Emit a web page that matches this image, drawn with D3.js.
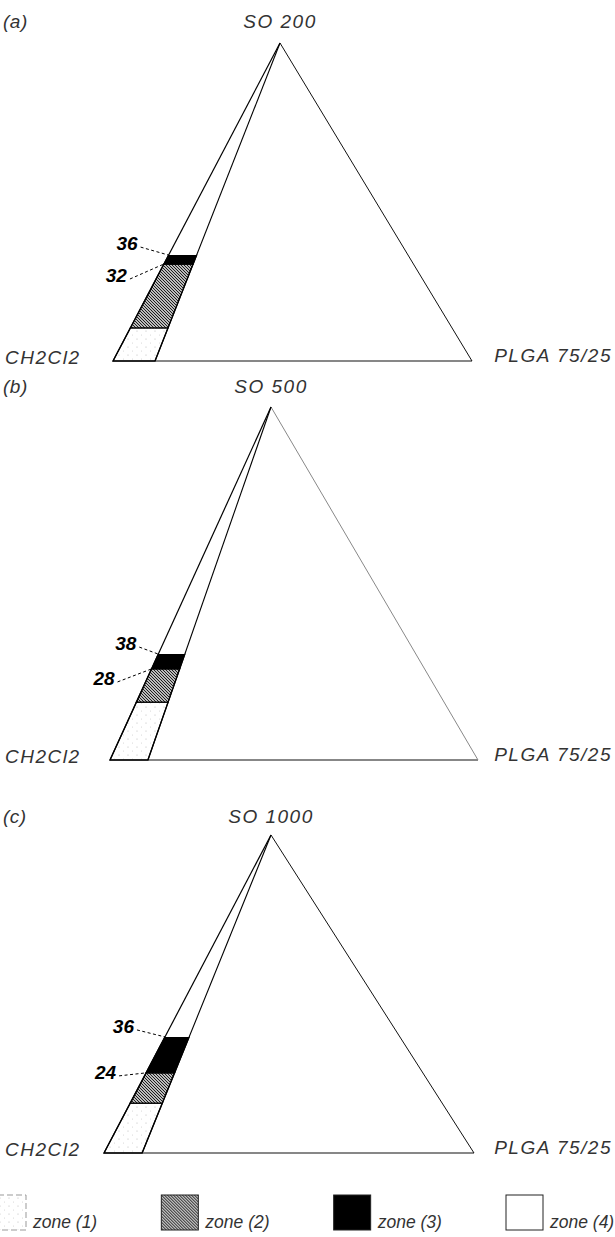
<!DOCTYPE html>
<html>
<head>
<meta charset="utf-8">
<script src="https://cdn.jsdelivr.net/npm/d3@7"></script>
<style>
  html, body { margin: 0; padding: 0; background: #fff; overflow: hidden; }
  svg { display: block; }
  text { font-family: "Liberation Sans", Arial, sans-serif; }
</style>
</head>
<body>
<svg id="chart" width="615" height="1237"></svg>
<script>
// ---------------- data ----------------
const panelTags   = ["(a)", "(b)", "(c)"];
const titles      = ["SO 200", "SO 500", "SO 1000"];
const leftVertex  = "CH2Cl2";
const rightVertex = "PLGA 75/25";
// PLGA share (% of base) at which the working strip ends
const plgaLimit   = [11.7, 10.3, 10.3];
// zone upper boundaries, SO %
const zone1Top    = [10.4, 16.4, 15.7];
const zone2Top    = [30.5, 25.8, 25.2];
const zone3Top    = [33.3, 30.0, 36.5];
// numbers written beside the strip
const upperValue  = ["36", "38", "36"];
const lowerValue  = ["32", "28", "24"];
const legendLabels = ["zone (1)", "zone (2)", "zone (3)", "zone (4)"];

// ---------------- layout ----------------
const layout = [
  { apex: [280, 43],  left: [113, 361],  right: [472, 361],  titleY: 28,
    up: { dx: -31, dy: -5 }, lo: { dx: -37, dy: 18 }, rightColor: "#111" },
  { apex: [271, 407], left: [110, 760],  right: [478, 760],  titleY: 393,
    up: { dx: -22, dy: -4 }, lo: { dx: -37, dy: 16 }, rightColor: "#888" },
  { apex: [271, 835], left: [104, 1153], right: [474, 1153], titleY: 823,
    up: { dx: -31, dy: -4 }, lo: { dx: -30, dy: 6 }, rightColor: "#111" }
];

const svg = d3.select("#chart");
const defs = svg.append("defs");

// hatch for zone 2
const hatch = defs.append("pattern").attr("id", "hatch")
  .attr("patternUnits", "userSpaceOnUse").attr("width", 3).attr("height", 3);
hatch.append("rect").attr("width", 3).attr("height", 3).attr("fill", "#fff");
hatch.append("path").attr("d", "M-1,-1 L4,4 M-1,2 L1,4 M2,-1 L4,1")
  .attr("stroke", "#111").attr("stroke-width", 1.1);

// sparse dots for zone 1
const dots = defs.append("pattern").attr("id", "dots")
  .attr("patternUnits", "userSpaceOnUse").attr("width", 9).attr("height", 8);
dots.append("rect").attr("width", 9).attr("height", 8).attr("fill", "#fff");
dots.append("circle").attr("cx", 2).attr("cy", 3).attr("r", 0.6).attr("fill", "#bbb");
dots.append("circle").attr("cx", 6.5).attr("cy", 7).attr("r", 0.5).attr("fill", "#ccc");

const zoneFill = ["url(#dots)", "url(#hatch)", "#000", "#fff"];

layout.forEach((L, i) => {
  const g = svg.append("g");
  const so = d3.scaleLinear().domain([0, 100]).range([L.left[1], L.apex[1]]);
  const xAt = (s, p) => {           // barycentric: s = SO %, p = PLGA %
    const a = s / 100, b = p / 100, c = 1 - a - b;
    return L.left[0] * c + L.right[0] * b + L.apex[0] * a;
  };
  const pt = (s, p) => [xAt(s, p), so(s)];
  const stripP = s => plgaLimit[i] * (1 - s / 100);

  // zones
  const bounds = [0, zone1Top[i], zone2Top[i], zone3Top[i], 100];
  for (let z = 0; z < 4; z++) {
    const s1 = bounds[z], s2 = bounds[z + 1];
    const poly = [pt(s1, 0), pt(s2, 0), pt(s2, stripP(s2)), pt(s1, stripP(s1))];
    g.append("path")
      .attr("d", d3.line()(poly) + "Z")
      .attr("fill", zoneFill[z])
      .attr("stroke", z === 3 ? "none" : "#000")
      .attr("stroke-width", 1.3);
  }

  // triangle
  g.append("line").attr("x1", L.left[0]).attr("y1", L.left[1])
    .attr("x2", L.right[0]).attr("y2", L.right[1])
    .attr("stroke", "#111").attr("stroke-width", 1.1);
  g.append("line").attr("x1", L.apex[0]).attr("y1", L.apex[1])
    .attr("x2", L.right[0]).attr("y2", L.right[1])
    .attr("stroke", L.rightColor).attr("stroke-width", 1);
  g.append("line").attr("x1", L.apex[0]).attr("y1", L.apex[1])
    .attr("x2", L.left[0]).attr("y2", L.left[1])
    .attr("stroke", "#000").attr("stroke-width", 1.2);
  const innerBase = pt(0, plgaLimit[i]);
  g.append("line").attr("x1", L.apex[0]).attr("y1", L.apex[1])
    .attr("x2", innerBase[0]).attr("y2", innerBase[1])
    .attr("stroke", "#000").attr("stroke-width", 1.1);

  // vertex labels
  const lab = (x, y, anchor, txt, ls) => g.append("text").attr("x", x).attr("y", y)
    .attr("text-anchor", anchor).attr("font-style", "italic")
    .attr("font-size", 19).attr("letter-spacing", ls)
    .attr("fill", "#333").text(txt);
  lab(L.apex[0], L.titleY, "middle", titles[i], 1.5);
  lab(3, L.titleY, "start", panelTags[i], 0.5);
  lab(5, L.left[1] + 3, "start", leftVertex, 1.5);
  lab(612, L.right[1] + 1, "end", rightVertex, 1.5);

  // boundary values with dashed leaders
  [[zone3Top[i], upperValue[i], L.up], [zone2Top[i], lowerValue[i], L.lo]]
    .forEach(([s, label, off]) => {
      const t = pt(s, 0);
      const tx = t[0] + off.dx, ty = t[1] + off.dy;
      g.append("text").attr("x", tx).attr("y", ty)
        .attr("text-anchor", "end").attr("font-style", "italic")
        .attr("font-weight", "bold").attr("font-size", 19).attr("fill", "#000")
        .text(label);
      g.append("line").attr("x1", tx + 3).attr("y1", ty - 3)
        .attr("x2", t[0]).attr("y2", t[1])
        .attr("stroke", "#000").attr("stroke-width", 1)
        .attr("stroke-dasharray", "3,2.5");
    });
});

// ---------------- legend ----------------
const legX = d3.scalePoint().domain(legendLabels).range([-11, 506]);
const leg = svg.append("g").selectAll("g").data(legendLabels).join("g")
  .attr("transform", d => `translate(${legX(d)},1195)`);
leg.append("rect").attr("width", 37).attr("height", 35)
  .attr("fill", (d, k) => zoneFill[k])
  .attr("stroke", (d, k) => k === 0 ? "#999" : "#222")
  .attr("stroke-dasharray", (d, k) => k === 0 ? "6,3" : null)
  .attr("stroke-width", 1);
leg.append("text").attr("x", 44).attr("y", 33)
  .attr("font-style", "italic").attr("font-size", 17.5)
  .attr("fill", "#333")
  .text(d => d);
</script>
</body>
</html>
